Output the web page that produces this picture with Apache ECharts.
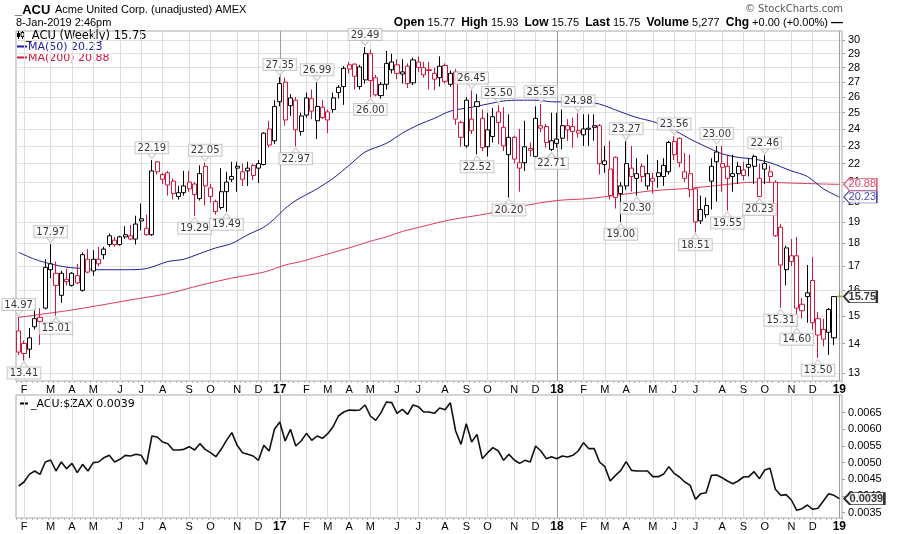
<!DOCTYPE html>
<html>
<head>
<meta charset="utf-8" />
<title>_ACU Weekly</title>
<script src="https://cdn.jsdelivr.net/npm/echarts@6/dist/echarts.min.js"></script>
<style>
  html, body { margin: 0; padding: 0; background: #fff; }
  #main { width: 900px; height: 534px; }
</style>
</head>
<body>
<div id="main"></div>
<script type="text/javascript">
// weekly bars, first one is the week of 25-Jan-2016
var firstWeek = '2016-01-25';

var open = [
  14.45,14.00,13.80,14.60,14.95,15.30,16.85,16.70,15.80,16.45,
  16.20,16.60,16.00,17.30,16.80,17.30,17.50,17.95,18.15,17.95,
  18.30,18.35,18.20,19.05,18.70,18.40,22.10,21.40,21.50,21.05,
  20.25,20.45,21.00,20.90,20.15,21.85,20.70,20.00,19.70,20.50,
  21.15,21.75,21.15,21.60,21.90,21.75,21.95,24.00,23.30,25.70,
  27.00,25.45,25.80,23.85,24.85,25.90,24.50,25.35,25.05,25.20,
  26.30,26.70,28.20,28.25,26.70,27.15,29.00,27.30,26.10,26.85,
  27.85,28.20,27.55,28.10,26.95,28.00,27.50,27.85,27.20,27.30,
  28.15,26.85,27.70,24.40,23.00,24.60,25.70,24.65,22.95,23.55,
  25.05,24.10,22.50,23.50,21.75,22.05,22.85,22.40,24.05,24.15,
  22.80,23.15,23.45,24.20,24.15,23.90,23.65,23.98,24.20,24.20,
  21.95,21.70,22.35,20.40,20.80,21.75,21.20,21.85,20.80,21.05,
  21.30,21.30,21.55,23.25,23.45,21.20,21.45,20.65,19.05,19.35,
  21.05,22.65,22.00,21.85,21.45,21.45,21.35,21.95,21.85,20.25,
  21.70,21.55,21.00,18.75,16.85,17.45,17.45,15.45,15.75,16.40,
  14.90,14.50,14.40,14.20,15.77
];
var close = [
  13.70,13.65,14.20,14.90,14.80,16.95,17.10,16.20,16.70,16.35,
  16.70,16.30,17.50,16.75,17.30,17.10,17.75,18.35,17.95,18.30,
  18.40,18.20,18.90,19.15,18.40,21.60,21.55,21.15,20.85,20.40,
  20.45,20.80,20.65,20.35,21.45,20.80,20.25,19.50,20.50,21.00,
  21.30,21.85,21.55,21.75,21.35,22.00,23.75,23.05,25.40,26.90,
  24.55,25.95,23.95,24.80,25.95,25.10,25.40,24.70,24.55,25.95,
  26.65,27.95,27.90,27.40,28.05,29.00,27.10,26.15,26.85,28.30,
  28.40,27.60,27.70,26.90,28.55,28.40,28.00,27.80,27.60,28.10,
  27.05,27.60,24.60,23.50,25.80,23.90,25.40,22.90,23.95,24.75,
  24.40,23.00,23.50,22.25,22.05,22.95,22.75,24.65,24.20,23.20,
  23.30,23.40,24.20,23.95,23.85,23.75,24.00,24.05,24.10,22.00,
  22.15,20.30,20.20,20.80,22.00,21.30,21.45,21.30,21.45,21.20,
  21.50,21.90,23.20,22.50,22.05,21.55,20.60,19.00,19.60,19.80,
  21.85,22.10,21.80,21.20,21.30,21.85,21.65,21.80,22.40,21.20,
  22.00,21.30,18.35,17.05,17.80,17.20,15.30,15.20,15.90,14.75,
  14.30,14.15,15.25,15.75,15.75
];
var low = [
  13.60,13.41,13.50,14.50,13.95,15.25,16.50,15.01,15.50,16.20,
  16.15,16.25,15.95,16.70,16.60,17.00,17.30,17.85,17.85,17.90,
  18.20,18.15,17.95,18.60,18.35,18.35,21.40,20.90,20.30,20.10,
  20.10,20.30,20.50,19.29,20.05,19.80,19.95,19.35,19.60,19.49,
  21.00,20.50,20.80,20.80,21.10,20.95,21.90,22.90,23.10,25.40,
  24.20,24.80,22.97,23.60,24.70,24.60,23.40,24.60,23.75,25.00,
  25.90,25.50,27.60,26.50,26.50,26.90,26.00,26.05,25.90,26.50,
  27.60,27.20,26.90,26.60,26.80,27.70,27.30,26.50,26.45,26.70,
  26.90,26.70,24.25,22.95,22.90,23.70,22.52,22.70,22.40,23.20,
  23.10,22.70,20.20,22.00,20.50,21.60,22.40,22.30,23.80,22.90,
  22.71,22.90,22.80,23.30,22.90,23.50,23.00,23.00,23.30,21.40,
  21.50,20.10,19.65,19.00,20.60,20.50,20.30,21.00,20.60,20.40,
  20.70,20.80,21.40,22.20,21.80,21.00,20.20,18.51,18.90,19.20,
  19.60,20.00,20.50,19.55,20.50,20.90,21.10,21.30,20.90,20.23,
  20.90,20.95,18.30,15.31,16.20,17.00,14.60,14.90,14.75,14.50,
  13.50,13.90,13.60,13.95,15.75
];
var high = [
  14.97,14.10,14.55,15.45,15.30,17.30,17.97,17.20,16.80,16.90,
  16.75,17.10,17.60,17.75,17.70,17.85,17.85,18.45,18.30,18.35,
  18.80,18.85,19.30,19.90,19.35,22.19,22.15,21.50,21.60,21.20,
  20.80,21.60,21.60,21.00,21.90,22.05,20.90,20.10,21.75,21.55,
  22.10,22.10,22.00,22.10,22.00,22.20,23.80,24.50,25.80,27.35,
  27.30,26.20,26.00,25.00,26.30,26.50,26.99,25.80,25.20,26.30,
  26.80,28.10,28.40,28.30,28.20,29.49,29.30,27.50,27.00,29.20,
  29.00,28.60,28.60,28.30,28.70,28.80,28.40,28.40,28.00,28.80,
  28.30,27.80,27.90,24.50,26.00,26.45,26.20,25.20,25.00,25.30,
  25.50,25.35,24.90,23.60,24.00,24.50,23.20,25.40,25.55,24.30,
  25.00,25.00,25.20,24.60,24.70,24.98,24.90,24.90,24.90,24.30,
  23.00,23.30,22.40,21.00,23.27,23.00,22.30,22.00,22.50,21.50,
  22.20,22.30,23.30,23.56,23.50,22.60,22.50,20.70,20.30,20.20,
  22.30,23.00,23.00,22.50,22.50,22.10,22.10,22.30,22.50,22.00,
  22.46,21.90,21.10,18.90,17.90,18.20,18.30,15.70,17.05,17.40,
  15.15,14.90,15.30,15.77,15.93
];

// moving averages: [week index, value]
var ma50Points = [
  [0,17.60],[3,17.30],[6,17.10],[9,16.96],[12,16.90],[15,16.85],[20,16.85],[24,16.90],
  [28,17.20],[31,17.30],[34,17.55],[37,17.80],[40,18.00],[43,18.40],[46,18.75],[48,19.15],
  [50,19.65],[52,20.05],[54,20.35],[56,20.65],[59,21.20],[62,21.90],[65,22.65],[69,23.15],
  [72,23.75],[75,24.25],[78,24.65],[81,25.10],[85,25.35],[88,25.55],[91,25.75],[94,25.80],
  [97,25.80],[100,25.70],[104,25.68],[107,25.65],[109,25.55],[113,25.05],[116,24.70],
  [119,24.45],[122,24.10],[126,23.40],[129,22.95],[132,22.55],[135,22.35],[138,22.25],
  [141,22.05],[145,21.60],[148,21.30],[151,20.65],[154,20.23]
];
var ma200Points = [
  [0,14.95],[9,15.20],[15,15.40],[21,15.62],[28,15.87],[34,16.20],[40,16.50],[46,16.75],
  [50,17.05],[53,17.20],[56,17.40],[62,17.80],[66,18.10],[69,18.30],[72,18.55],[76,18.80],
  [81,19.10],[88,19.40],[94,19.75],[101,20.05],[107,20.15],[113,20.35],[119,20.55],
  [126,20.68],[132,20.85],[138,21.00],[145,20.95],[151,20.90],[154,20.88]
];

// _ACU:$ZAX ratio, one value per week
var ratio = [
  0.00430,0.00442,0.00465,0.00475,0.00465,0.00502,0.00508,0.00475,0.00502,0.00482,
  0.00498,0.00470,0.00495,0.00475,0.00500,0.00502,0.00515,0.00522,0.00502,0.00510,
  0.00522,0.00520,0.00525,0.00522,0.00495,0.00580,0.00577,0.00562,0.00557,0.00538,
  0.00538,0.00540,0.00548,0.00538,0.00557,0.00540,0.00530,0.00518,0.00540,0.00567,
  0.00590,0.00552,0.00530,0.00525,0.00520,0.00507,0.00552,0.00535,0.00600,0.00622,
  0.00565,0.00600,0.00550,0.00565,0.00588,0.00567,0.00580,0.00573,0.00587,0.00608,
  0.00640,0.00652,0.00658,0.00657,0.00658,0.00673,0.00640,0.00627,0.00650,0.00682,
  0.00680,0.00648,0.00660,0.00645,0.00673,0.00668,0.00652,0.00652,0.00648,0.00664,
  0.00659,0.00680,0.00595,0.00555,0.00617,0.00562,0.00585,0.00512,0.00530,0.00545,
  0.00535,0.00507,0.00525,0.00508,0.00498,0.00507,0.00502,0.00550,0.00535,0.00512,
  0.00518,0.00512,0.00520,0.00517,0.00522,0.00535,0.00560,0.00542,0.00542,0.00502,
  0.00488,0.00445,0.00462,0.00477,0.00503,0.00477,0.00475,0.00475,0.00475,0.00458,
  0.00458,0.00465,0.00488,0.00468,0.00457,0.00442,0.00432,0.00390,0.00407,0.00410,
  0.00462,0.00463,0.00455,0.00445,0.00437,0.00445,0.00457,0.00458,0.00473,0.00452,
  0.00478,0.00483,0.00420,0.00402,0.00404,0.00388,0.00357,0.00362,0.00373,0.00360,
  0.00363,0.00385,0.00407,0.00402,0.00392
];

// weeks that carry a high / low callout
var highLabelIdx = [0, 6, 25, 35, 49, 56, 65, 85, 90, 98, 105, 114, 123, 131, 140];
var lowLabelIdx = [1, 7, 33, 39, 52, 66, 86, 92, 100, 113, 116, 127, 133, 139, 143, 146, 150];

var priceTicks = [13,14,15,16,17,18,19,20,21,22,23,24,25,26,27,28,29,30];
var ratioTicks = [0.0035,0.0040,0.0045,0.0050,0.0055,0.0060,0.0065];
var monthLetters = ['J','F','M','A','M','J','J','A','S','O','N','D'];
var volumeText = '5,277';

var RED = '#d3163d';
var BLUE = '#1e1e96';
var MA_RED = '#dc3a5a';
var FONT = 'Liberation Sans';
var VFONT = 'DejaVu Sans';

var dates = [];
var t0 = Date.parse(firstWeek + 'T00:00:00Z');
for (var i = 0; i < open.length; i++) {
  dates.push(new Date(t0 + i * 7 * 86400000).toISOString().slice(0, 10));
}
var last = open.length - 1;

function isMonthStart(i) {
  return i > 0 && dates[i].slice(5, 7) !== dates[i - 1].slice(5, 7);
}

var candleData = open.map(function (o, i) {
  var c = close[i];
  var up = i > 0 && c >= close[i - 1];
  var edge = up ? '#000' : RED;
  var style = { color: '#fff', color0: edge, borderColor: edge, borderColor0: edge, borderWidth: 1 };
  if (i === last) {
    style = { color: '#f6f66a', color0: '#f6f66a', borderColor: '#8c8c3c', borderColor0: '#8c8c3c', borderWidth: 1 };
  }
  return { value: [o, c, low[i], high[i]], itemStyle: style };
});

var vLines = [];
dates.forEach(function (d, i) {
  if (isMonthStart(i)) {
    vLines.push({ xAxis: d, lineStyle: { color: d.slice(5, 7) === '01' ? '#9c9c9c' : '#dddddd' } });
  }
});

function gridLineSeries(grid, ticks) {
  return {
    type: 'line', xAxisIndex: grid, yAxisIndex: grid, data: [], silent: true,
    markLine: {
      z: 1, silent: true, animation: false, symbol: ['none', 'none'],
      label: { show: false }, emphasis: { disabled: true },
      lineStyle: { color: '#e2e2e2', type: 'solid', width: 1 },
      data: ticks.map(function (v) { return { yAxis: v }; }).concat(vLines)
    }
  };
}

function xAxisFor(grid) {
  return {
    type: 'category', gridIndex: grid, data: dates, boundaryGap: true,
    axisLine: { show: false },
    axisTick: { show: true, interval: 0, length: 2, lineStyle: { color: '#b4b4b4' } },
    splitLine: { show: false },
    axisLabel: {
      interval: function (idx) { return isMonthStart(idx); },
      margin: 3, fontSize: 11, fontFamily: FONT, color: '#000',
      formatter: function (v) {
        var m = +v.slice(5, 7);
        return m === 1 ? '{y|' + v.slice(2, 4) + '}' : monthLetters[m - 1];
      },
      rich: { y: { fontWeight: 'bold', fontSize: 12, fontFamily: FONT, color: '#000' } }
    }
  };
}

var tagPath = 'path://M0,6L6,0L36,0L36,12L6,12Z';

function calloutSeries(idx, isHigh) {
  return {
    type: 'scatter', xAxisIndex: 0, yAxisIndex: 0, silent: true, z: 6,
    data: idx.map(function (i) { return [dates[i], isHigh ? high[i] : low[i]]; }),
    symbol: isHigh ? 'path://M0,0L10,0L5,6Z' : 'path://M5,0L10,6L0,6Z',
    symbolSize: [8, 5],
    symbolOffset: [0, isHigh ? -4 : 4],
    itemStyle: { color: '#fff', borderColor: '#bdbdbd', borderWidth: 1 },
    label: {
      show: true, position: isHigh ? 'top' : 'bottom', distance: 0,
      formatter: function (p) { return p.value[1].toFixed(2); },
      backgroundColor: '#fff', borderColor: '#bdbdbd', borderWidth: 1,
      padding: [1, 2, 0, 2], fontSize: 10, fontFamily: VFONT, color: '#000'
    }
  };
}

var ma50Last = ma50Points[ma50Points.length - 1][1];
var ma200Last = ma200Points[ma200Points.length - 1][1];

var chart = echarts.init(document.getElementById('main'));

var option = {
  animation: false,
  backgroundColor: '#fff',
  grid: [
    { left: 16, right: 58, top: 31, height: 350, show: true, borderColor: '#a8a8a8', borderWidth: 1, backgroundColor: '#fff', outerBoundsMode: 'none' },
    { left: 16, right: 58, top: 395, height: 123, show: true, borderColor: '#a8a8a8', borderWidth: 1, backgroundColor: '#fff', outerBoundsMode: 'none' }
  ],
  xAxis: [xAxisFor(0), xAxisFor(1)],
  yAxis: [
    {
      type: 'log', gridIndex: 0, position: 'right', logBase: 10, min: 12.74, max: 30.7,
      splitLine: { show: false }, minorTick: { show: false }, minorSplitLine: { show: false },
      axisLine: { show: false },
      axisTick: { show: true, length: 3, customValues: priceTicks, lineStyle: { color: '#a0a0a0' } },
      axisLabel: {
        customValues: priceTicks, margin: 6, fontSize: 11, fontFamily: FONT, color: '#000',
        formatter: function (v) { return String(Math.round(v)); }
      }
    },
    {
      type: 'value', gridIndex: 1, position: 'right', min: 0.00334, max: 0.00703,
      splitLine: { show: false }, axisLine: { show: false },
      axisTick: { show: true, length: 3, customValues: ratioTicks, lineStyle: { color: '#a0a0a0' } },
      axisLabel: {
        customValues: ratioTicks, margin: 6, fontSize: 11, fontFamily: FONT, color: '#000',
        formatter: function (v) { return v.toFixed(4); }
      }
    }
  ],
  series: [
    gridLineSeries(0, priceTicks),
    gridLineSeries(1, ratioTicks),
    {
      type: 'line', name: 'MA(200)', xAxisIndex: 0, yAxisIndex: 0, z: 2, silent: true,
      data: ma200Points.map(function (p) { return [dates[p[0]], p[1]]; }),
      symbol: 'none', smooth: 0.3, lineStyle: { color: MA_RED, width: 1 }
    },
    {
      type: 'line', name: 'MA(50)', xAxisIndex: 0, yAxisIndex: 0, z: 2, silent: true,
      data: ma50Points.map(function (p) { return [dates[p[0]], p[1]]; }),
      symbol: 'none', smooth: 0.3, lineStyle: { color: BLUE, width: 1 }
    },
    {
      type: 'candlestick', name: '_ACU', xAxisIndex: 0, yAxisIndex: 0, z: 3, silent: true,
      barWidth: '86%', data: candleData
    },
    calloutSeries(highLabelIdx, true),
    calloutSeries(lowLabelIdx, false),
    {
      type: 'scatter', xAxisIndex: 0, yAxisIndex: 0, z: 10, silent: true,
      symbol: tagPath, symbolSize: [33, 12], symbolOffset: [21, 0],
      label: { show: true, position: 'inside', offset: [2, 0], fontSize: 11, fontFamily: FONT,
        formatter: function (p) { return p.value[1].toFixed(2); } },
      data: [
        { value: [dates[last], ma200Last], itemStyle: { color: '#fff', borderColor: MA_RED, borderWidth: 1 }, label: { color: RED } },
        { value: [dates[last], ma50Last], itemStyle: { color: '#fff', borderColor: BLUE, borderWidth: 1 }, label: { color: BLUE } },
        { value: [dates[last], close[last]], itemStyle: { color: '#fff', borderColor: '#000', borderWidth: 1.5 }, label: { color: '#000', fontWeight: 'bold' } }
      ]
    },
    {
      type: 'line', name: '_ACU:$ZAX', xAxisIndex: 1, yAxisIndex: 1, z: 2, silent: true,
      data: ratio.map(function (v, i) { return [dates[i], v]; }),
      symbol: 'none', lineStyle: { color: '#111', width: 1.6 }
    },
    {
      type: 'scatter', xAxisIndex: 1, yAxisIndex: 1, z: 10, silent: true,
      symbol: 'path://M0,6L6,0L42,0L42,12L6,12Z', symbolSize: [40, 12], symbolOffset: [25, 0],
      label: { show: true, position: 'inside', offset: [2, 0], fontSize: 11, fontFamily: FONT,
        fontWeight: 'bold', color: '#000', formatter: function (p) { return p.value[1].toFixed(4); } },
      itemStyle: { color: '#fff', borderColor: '#000', borderWidth: 1.5 },
      data: [[dates[last], ratio[last]]]
    }
  ],
  graphic: [
    { type: 'text', x: 15, y: 10, style: { text: '_ACU', fontSize: 13, fontWeight: 'bold', fontFamily: FONT, fill: '#000', verticalAlign: 'middle' } },
    { type: 'text', x: 55, y: 10, style: { text: 'Acme United Corp. (unadjusted) AMEX', fontSize: 11, fontFamily: FONT, fill: '#000', verticalAlign: 'middle' } },
    { type: 'text', x: 16, y: 23, style: { text: '8-Jan-2019 2:46pm', fontSize: 11, fontFamily: FONT, fill: '#000', verticalAlign: 'middle' } },
    { type: 'text', x: 843, y: 9, style: { text: '\u00a9 StockCharts.com', fontSize: 10, fontFamily: VFONT, fill: '#555', align: 'right', verticalAlign: 'middle' } },
    {
      type: 'text', x: 843, y: 23,
      style: {
        text: '{b|Open} ' + open[last].toFixed(2) + '  {b|High} ' + high[last].toFixed(2) +
          '  {b|Low} ' + low[last].toFixed(2) + '  {b|Last} ' + close[last].toFixed(2) +
          '  {b|Volume} ' + volumeText + '  {b|Chg} +' + (close[last] - close[last - 1]).toFixed(2) +
          ' (+' + (100 * (close[last] - close[last - 1]) / close[last - 1]).toFixed(2) + '%) {b|\u2014}',
        fontSize: 11, fontFamily: FONT, fill: '#000', align: 'right', verticalAlign: 'middle',
        rich: { b: { fontSize: 12, fontWeight: 'bold', fontFamily: FONT, fill: '#000' } }
      }
    },
    // candle glyph of the price legend
    { type: 'line', shape: { x1: 18.5, y1: 31, x2: 18.5, y2: 39 }, style: { stroke: '#000', lineWidth: 1 } },
    { type: 'rect', shape: { x: 17, y: 33, width: 3, height: 4 }, style: { fill: '#000' } },
    { type: 'line', shape: { x1: 22.5, y1: 31, x2: 22.5, y2: 39 }, style: { stroke: '#000', lineWidth: 1 } },
    { type: 'rect', shape: { x: 21, y: 32.5, width: 3, height: 4 }, style: { fill: '#fff', stroke: '#000', lineWidth: 1 } },
    { type: 'text', x: 26, y: 36, style: { text: '_ACU (Weekly) ' + close[last].toFixed(2), fontSize: 11.5, fontFamily: VFONT, fill: '#000', verticalAlign: 'middle' } },
    { type: 'line', shape: { x1: 17, y1: 46.5, x2: 27, y2: 46.5 }, style: { stroke: BLUE, lineWidth: 2 } },
    { type: 'text', x: 28, y: 47, style: { text: 'MA(50) ' + ma50Last.toFixed(2), fontSize: 11, fontFamily: VFONT, fill: BLUE, verticalAlign: 'middle' } },
    { type: 'line', shape: { x1: 17, y1: 57.5, x2: 27, y2: 57.5 }, style: { stroke: RED, lineWidth: 2 } },
    { type: 'text', x: 28, y: 58, style: { text: 'MA(200) ' + ma200Last.toFixed(2), fontSize: 11, fontFamily: VFONT, fill: RED, verticalAlign: 'middle' } },
    { type: 'line', shape: { x1: 20, y1: 403.5, x2: 28, y2: 403.5 }, style: { stroke: '#000', lineWidth: 2 } },
    { type: 'text', x: 31, y: 404, style: { text: '_ACU:$ZAX ' + ratio[last].toFixed(4), fontSize: 11, fontFamily: VFONT, fill: '#000', verticalAlign: 'middle' } }
  ]
};

chart.setOption(option);
</script>
</body>
</html>
